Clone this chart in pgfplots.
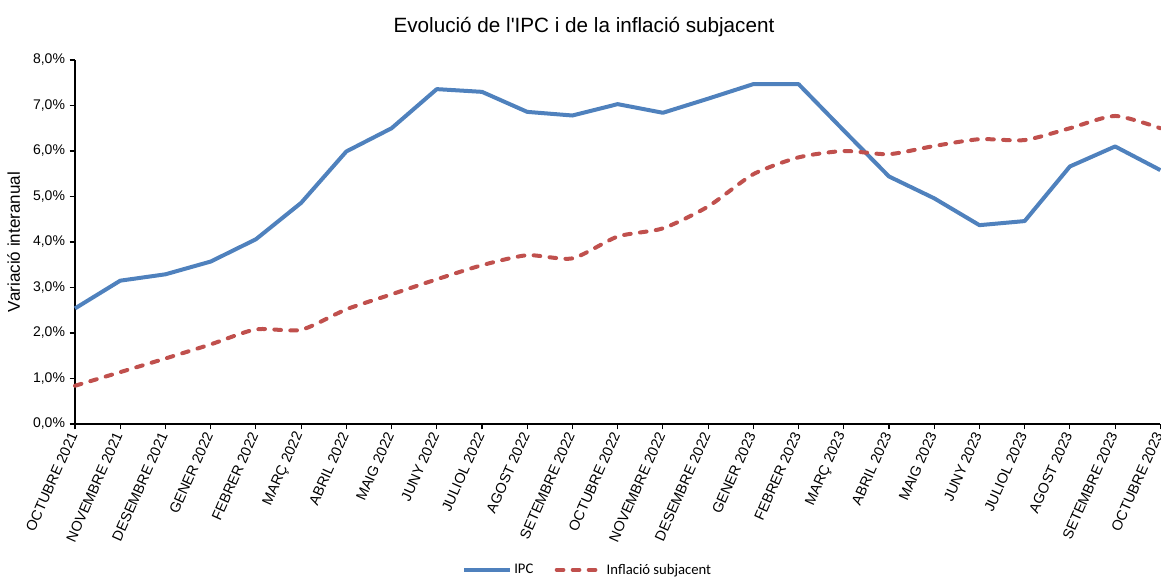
\documentclass[border=0pt]{standalone}
\usepackage{pgfplots}
\pgfplotsset{compat=1.18}
\usepackage{fontspec}
\setmainfont{Liberation Sans}
\newfontfamily\calibri{Carlito}
\definecolor{ipcblue}{HTML}{4F81BD}
\definecolor{corered}{HTML}{C0504D}
\begin{document}
\begin{tikzpicture}
\useasboundingbox (-56.25pt,-116.25pt) rectangle (814.5pt,318pt);
\begin{axis}[
  at={(0,0)}, anchor=south west,
  scale only axis, width=814pt, height=273pt,
  xmin=0, xmax=24, ymin=0, ymax=0.08,
  axis lines=left, axis line style={-, line width=1pt, black},
  xtick={0,...,24},
  xticklabels={OCTUBRE 2021,NOVEMBRE 2021,DESEMBRE 2021,GENER 2022,FEBRER 2022,MARÇ 2022,ABRIL 2022,MAIG 2022,JUNY 2022,JULIOL 2022,AGOST 2022,SETEMBRE 2022,OCTUBRE 2022,NOVEMBRE 2022,DESEMBRE 2022,GENER 2023,FEBRER 2023,MARÇ 2023,ABRIL 2023,MAIG 2023,JUNY 2023,JULIOL 2023,AGOST 2023,SETEMBRE 2023,OCTUBRE 2023},
  xticklabel style={rotate=66, anchor=east, font=\fontsize{10.8}{12}\selectfont, inner sep=3pt},
  ytick={0,0.01,...,0.08},
  scaled y ticks=false,
  yticklabel={\pgfmathparse{\tick*100}\pgfmathprintnumber[fixed,fixed zerofill,precision=1,use comma]{\pgfmathresult}\%},
  yticklabel style={font=\fontsize{10.5}{12}\selectfont, /pgf/number format/assume math mode=true},
  tick align=outside, tick style={black, line width=0.9pt}, major tick length=4pt,
  ylabel={Variació interanual},
  ylabel style={at={(axis description cs:-0.0565,0.5)}, anchor=center, font=\fontsize{12.8}{14}\selectfont},
  legend style={at={(axis description cs:0.4727,-0.401)}, anchor=center, draw=none, legend columns=2,
    font=\calibri\fontsize{11}{13}\selectfont, /tikz/every even column/.append style={column sep=14pt}},
  legend image code/.code={\draw[#1] (0pt,0pt) -- (34pt,0pt);},
  clip=false,
]
\addplot[ipcblue, line width=3pt, line join=round] coordinates {
(0,0.0254) (1,0.0315) (2,0.0329) (3,0.0357) (4,0.0406) (5,0.0486) (6,0.0599) (7,0.0650) (8,0.0736) (9,0.0730) (10,0.0686) (11,0.0678) (12,0.0703) (13,0.0684) (14,0.0715) (15,0.0747) (16,0.0747) (17,0.0645) (18,0.0544) (19,0.0496) (20,0.0437) (21,0.0446) (22,0.0566) (23,0.0610) (24,0.0558)
};
\addlegendentry{IPC}
\addplot[corered, line width=3pt, line cap=round, dash pattern=on 5pt off 7pt, smooth, tension=0.4] coordinates {
(0,0.0084) (1,0.0114) (2,0.0144) (3,0.0175) (4,0.0208) (5,0.0207) (6,0.0252) (7,0.0285) (8,0.0318) (9,0.0349) (10,0.0371) (11,0.0364) (12,0.0412) (13,0.0430) (14,0.0478) (15,0.0549) (16,0.0586) (17,0.0600) (18,0.0593) (19,0.0611) (20,0.0626) (21,0.0624) (22,0.0650) (23,0.0677) (24,0.0650)
};
\addlegendentry{Inflació subjacent}
\end{axis}
\node[font=\fontsize{15.5}{17}\selectfont] at (381.75pt,298pt) {Evolució de l\textquotesingle IPC i de la inflació subjacent};
\end{tikzpicture}
\end{document}
